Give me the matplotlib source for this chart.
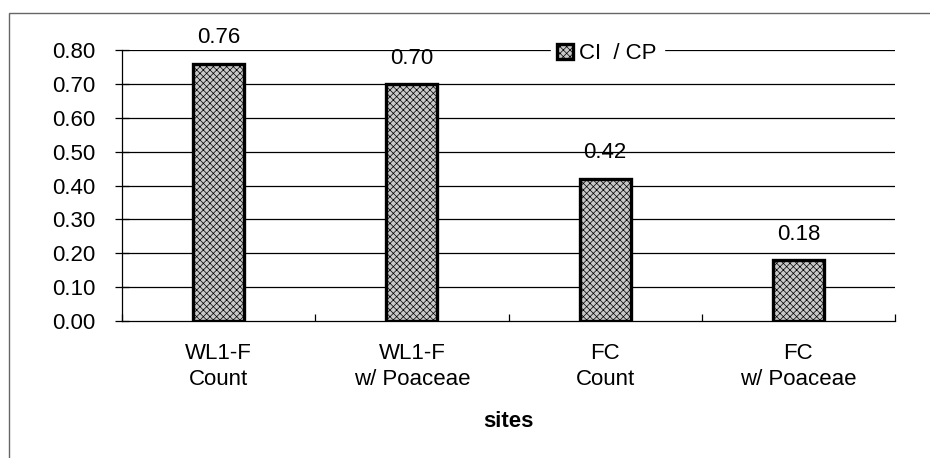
import numpy as np
import matplotlib
matplotlib.use('Agg')
import matplotlib.pyplot as plt
from matplotlib.patches import Rectangle

plt.rcParams['font.family'] = ['Liberation Sans', 'DejaVu Sans']
plt.rcParams['hatch.linewidth'] = 0.5

sites = ['WL1-F\nCount', 'WL1-F\nw/ Poaceae', 'FC\nCount', 'FC\nw/ Poaceae']
ratio = [0.76, 0.70, 0.42, 0.18]
ratio_labels = ['0.76', '0.70', '0.42', '0.18']
yticks = [0.0, 0.1, 0.2, 0.3, 0.4, 0.5, 0.6, 0.7, 0.8]

fs = 16

fig = plt.figure(figsize=(9.3, 4.58), dpi=100)
# outer chart frame
fig.patches.append(Rectangle((9/930, -0.01), 1.0, 1 - 13/458 + 0.01, transform=fig.transFigure,
                             fill=False, edgecolor='#666666', lw=1.0))
ax = fig.add_axes([122/930, 1 - 321/458, (895 - 122)/930, (321 - 50)/458])

x = np.arange(len(sites))
ax.set_xlim(-0.5, len(sites) - 0.5)
ax.set_ylim(0, 0.8)

for yv in yticks[1:]:
    ax.axhline(yv, color='black', lw=0.9, zorder=1)

bars = ax.bar(x, ratio, width=0.265, facecolor='#c8c8c8', edgecolor='black',
              hatch='xxxxx', lw=2.4, zorder=3, label='CI  / CP')
for xi, v, lab in zip(x, ratio, ratio_labels):
    ax.text(xi, v + 0.045, lab, ha='center', va='bottom', fontsize=fs, zorder=4)

ax.set_yticks(yticks)
ax.set_yticklabels(['%.2f' % t for t in yticks], fontsize=fs)
ax.tick_params(axis='y', direction='inout', length=10, width=0.9, pad=14)

ax.set_xticks(x)
ax.set_xticklabels(sites, fontsize=fs, linespacing=1.3)
ax.set_xticks(np.arange(-0.5, len(sites)), minor=True)
ax.tick_params(axis='x', which='major', length=0, pad=16)
ax.tick_params(axis='x', which='minor', direction='in', length=5, width=0.9)

for s in ['top', 'right']:
    ax.spines[s].set_visible(False)
ax.spines['left'].set_linewidth(0.9)
ax.spines['bottom'].set_linewidth(0.9)

ax.set_xlabel('sites', fontsize=fs, fontweight='bold', labelpad=15)

leg = ax.legend(loc='upper left', bbox_to_anchor=(0.54, 1.09), frameon=True, fontsize=fs,
                handlelength=0.7, handleheight=0.7, handletextpad=0.3, borderpad=0.3,
                fancybox=False)
leg.get_frame().set_edgecolor('white')
leg.get_frame().set_facecolor('white')
leg.get_frame().set_alpha(1.0)
leg.set_zorder(5)

fig.savefig('out.png', dpi=100)
